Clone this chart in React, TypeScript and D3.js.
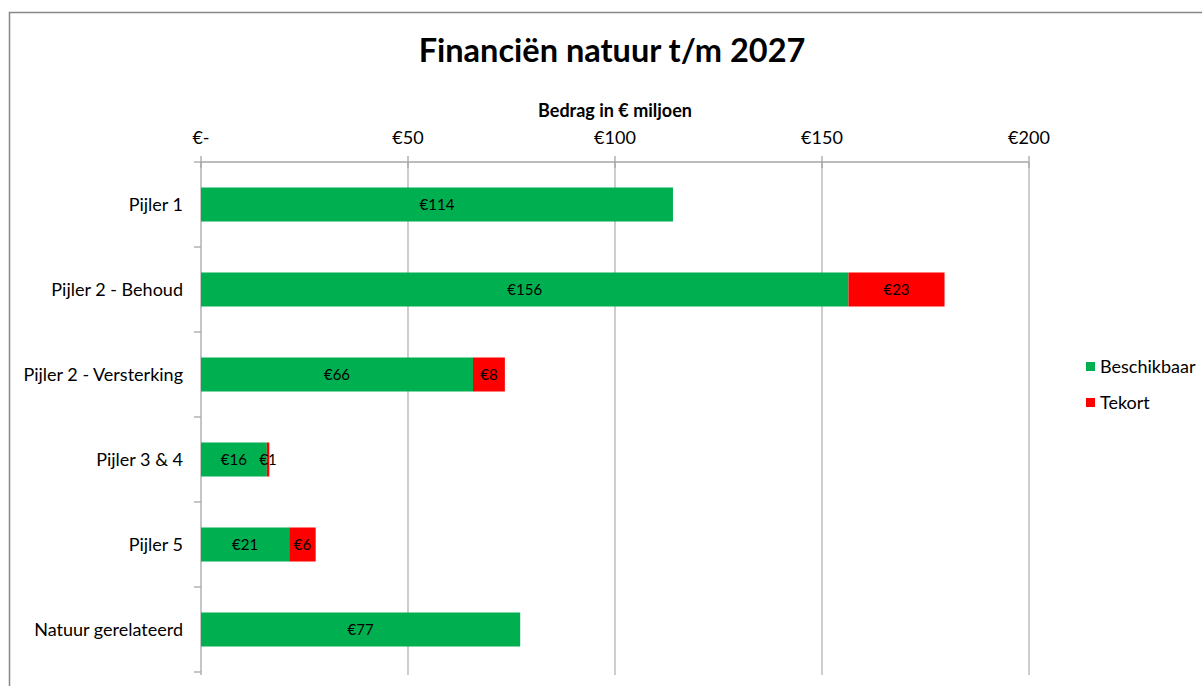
import React from "react";
import * as d3 from "d3";

const categories = ["Pijler 1", "Pijler 2 - Behoud", "Pijler 2 - Versterking", "Pijler 3 & 4", "Pijler 5", "Natuur gerelateerd"];
const beschikbaar = [114.0, 156.4, 65.7, 15.9, 21.3, 77.1];
const tekort = [0, 23.2, 7.7, 0.6, 6.4, 0];
const tickValues = [0, 50, 100, 150, 200];
const tickLabels = ["€-", "€50", "€100", "€150", "€200"];
const seriesNames = ["Beschikbaar", "Tekort"];
const seriesColors = ["#00B050", "#FF0000"];

const W = 1202, H = 686;
const FONT = "Lato, 'Open Sans', sans-serif";

export default function App() {
  const left = 201, right = 1029, top = 162, bottom = 672;
  const x = d3.scaleLinear().domain([0, 200]).range([left, right]);
  const band = d3.scaleBand<string>().domain(categories).range([top, bottom]);
  const rows = categories.map((c, i) => ({ c, b: beschikbaar[i], t: tekort[i] }));
  const fmt = (v: number) => "€" + d3.format(".0f")(v);

  return (
    <svg width={W} height={H} style={{ position: "fixed", left: 0, top: 0, background: "#fff" }} fontFamily={FONT}>
      <rect x={0} y={0} width={W} height={H} fill="#fff" />
      <rect x={9.5} y={12.5} width={1210} height={700} fill="none" stroke="#878787" strokeWidth={1.5} />
      <text x={612} y={62} textAnchor="middle" fontSize={32.5} fontWeight="bold" fill="#000">Financiën natuur t/m 2027</text>
      <text x={(left + right) / 2} y={117} textAnchor="middle" fontSize={18} fontWeight="bold" fill="#000">Bedrag in € miljoen</text>
      {tickValues.map((v, i) => (
        <g key={v}>
          {i > 0 && <line x1={x(v)} x2={x(v)} y1={top} y2={bottom + 3} stroke="#b3b3b3" strokeWidth={1.3} />}
          <line x1={x(v)} x2={x(v)} y1={top - 6} y2={top + 6} stroke="#a6a6a6" strokeWidth={1.3} />
          <text x={x(v)} y={144} textAnchor="middle" fontSize={18} fill="#000">{tickLabels[i]}</text>
        </g>
      ))}
      <line x1={left} x2={right} y1={top} y2={top} stroke="#a6a6a6" strokeWidth={1.3} />
      <line x1={left} x2={left} y1={top} y2={bottom + 3} stroke="#a6a6a6" strokeWidth={1.3} />
      {categories.map((c) => (
        <line key={c} x1={left - 7} x2={left} y1={(band(c) as number) + band.bandwidth()} y2={(band(c) as number) + band.bandwidth()} stroke="#a6a6a6" strokeWidth={1.3} />
      ))}
      <line x1={left - 7} x2={left} y1={top} y2={top} stroke="#a6a6a6" strokeWidth={1.3} />
      {rows.map((r) => {
        const yc = (band(r.c) as number) + band.bandwidth() / 2;
        const bh = 34;
        return (
          <g key={r.c}>
            <text x={183} y={yc + 6} textAnchor="end" fontSize={18} fill="#000">{r.c}</text>
            <rect x={x(0)} y={yc - bh / 2} width={x(r.b) - x(0)} height={bh} fill={seriesColors[0]} />
            {r.t > 0 && <rect x={x(r.b)} y={yc - bh / 2} width={x(r.b + r.t) - x(r.b)} height={bh} fill={seriesColors[1]} />}
            <text x={(x(0) + x(r.b)) / 2} y={yc + 5} textAnchor="middle" fontSize={15} fill="#000">{fmt(r.b)}</text>
            {r.t > 0 && <text x={(x(r.b) + x(r.b + r.t)) / 2} y={yc + 5} textAnchor="middle" fontSize={15} fill="#000">{fmt(r.t)}</text>}
          </g>
        );
      })}
      {seriesNames.map((s, i) => (
        <g key={s}>
          <rect x={1086} y={362 + i * 36} width={9} height={9} fill={seriesColors[i]} />
          <text x={1100} y={373 + i * 36} fontSize={18} fill="#000">{s}</text>
        </g>
      ))}
    </svg>
  );
}
